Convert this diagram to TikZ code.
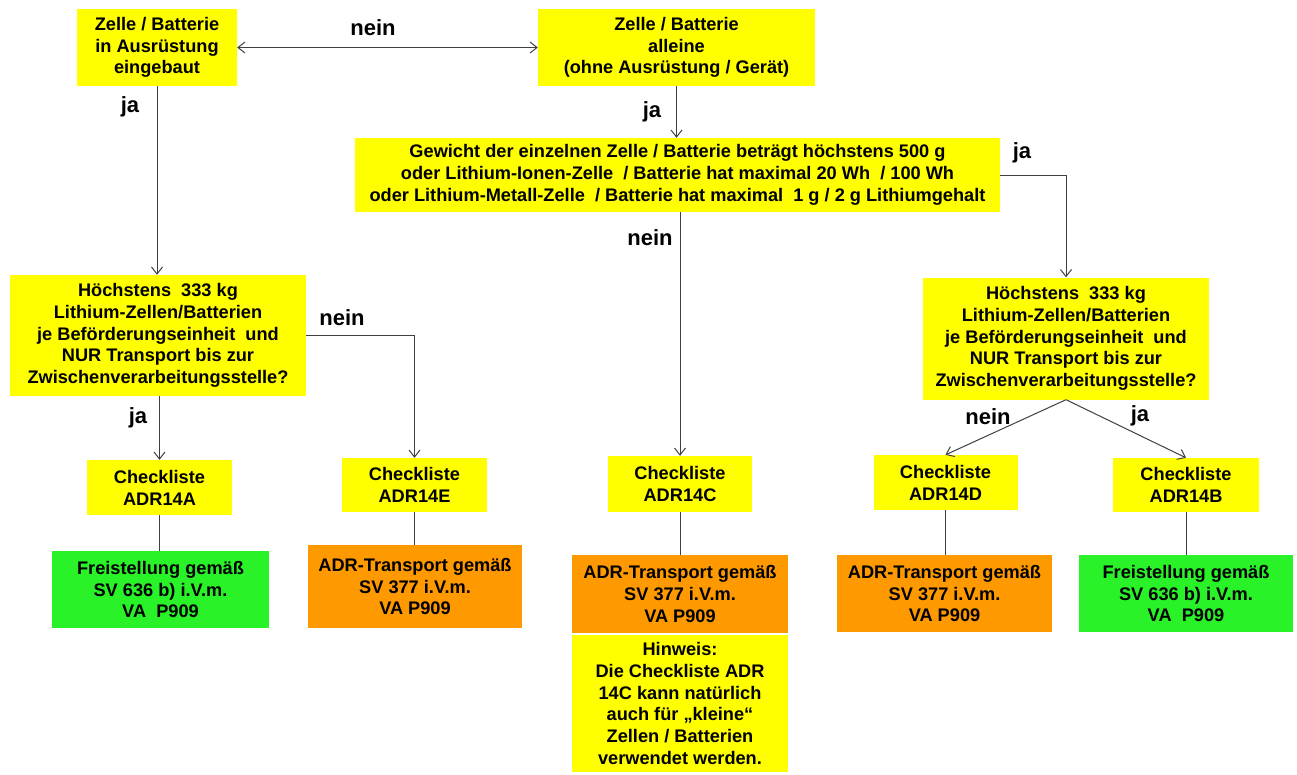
\documentclass[tikz,border=0pt]{standalone}
\usepackage{fontspec}
\setmainfont{Liberation Sans}
\usetikzlibrary{arrows.meta}
\definecolor{byellow}{RGB}{255,255,0}
\definecolor{bgreen}{RGB}{41,242,41}
\definecolor{borange}{RGB}{255,153,0}
\definecolor{lgray}{RGB}{64,64,64}
\tikzset{
  base/.style={font=\fontsize{18.2}{21.8}\selectfont\bfseries, align=center, inner sep=0pt, text=black},
  ybox/.style={base, fill=byellow},
  gbox/.style={base, fill=bgreen},
  obox/.style={base, fill=borange},
  lbl/.style={font=\fontsize{22}{25}\selectfont\bfseries, inner sep=0pt},
  conn/.style={draw=lgray, line width=1pt},
  arr/.style={conn, -{Straight Barb[length=7pt,width=11pt]}},
  darr/.style={conn, {Straight Barb[length=7pt,width=11pt]}-{Straight Barb[length=7pt,width=11pt]}}
}
\begin{document}
\begin{tikzpicture}[x=1pt,y=-1pt]
\fill[white] (0,0) rectangle (1297,774);
\useasboundingbox (0,0) rectangle (1297,774);
% top boxes
\node[ybox, minimum width=160, minimum height=77] (A) at (157,47.5) {Zelle / Batterie\\in Ausrüstung\\eingebaut};
\node[ybox, minimum width=277, minimum height=77] (B) at (676.5,47.5) {Zelle / Batterie\\alleine\\(ohne Ausrüstung / Gerät)};
\node[ybox, minimum width=645, minimum height=74] (C) at (677.5,175) {Gewicht der einzelnen Zelle / Batterie beträgt höchstens 500 g\\oder Lithium-Ionen-Zelle \ / Batterie hat maximal 20 Wh \ / 100 Wh\\oder Lithium-Metall-Zelle \ / Batterie hat maximal \ 1 g / 2 g Lithiumgehalt};
% decision boxes
\node[ybox, minimum width=296, minimum height=121] (L) at (158,335.5) {Höchstens \ 333 kg\\Lithium-Zellen/Batterien\\je Beförderungseinheit \ und\\NUR Transport bis zur\\Zwischenverarbeitungsstelle?};
\node[ybox, minimum width=286, minimum height=122] (R) at (1066,338.5) {Höchstens \ 333 kg\\Lithium-Zellen/Batterien\\je Beförderungseinheit \ und\\NUR Transport bis zur\\Zwischenverarbeitungsstelle?};
% checklists
\node[ybox, minimum width=145, minimum height=55] (ChkA) at (159.5,487.5) {Checkliste\\ADR14A};
\node[ybox, minimum width=145, minimum height=54] (ChkE) at (414.5,485) {Checkliste\\ADR14E};
\node[ybox, minimum width=144, minimum height=56] (ChkC) at (680,484) {Checkliste\\ADR14C};
\node[ybox, minimum width=144, minimum height=55] (ChkD) at (945.5,482.5) {Checkliste\\ADR14D};
\node[ybox, minimum width=146, minimum height=54] (ChkB) at (1186,485) {Checkliste\\ADR14B};
% results
\node[gbox, minimum width=217, minimum height=77] (GA) at (160.5,589.5) {Freistellung gemäß\\SV 636 b) i.V.m.\\VA \ P909};
\node[obox, minimum width=214, minimum height=83] (OE) at (415,586.5) {ADR-Transport gemäß\\SV 377 i.V.m.\\VA P909};
\node[obox, minimum width=216, minimum height=78] (OC) at (680,594) {ADR-Transport gemäß\\SV 377 i.V.m.\\VA P909};
\node[ybox, minimum width=216, minimum height=137] (H) at (680,703.5) {Hinweis:\\Die Checkliste ADR\\14C kann natürlich\\auch für „kleine“\\Zellen / Batterien\\verwendet werden.};
\node[obox, minimum width=215, minimum height=77] (OD) at (944.5,593.5) {ADR-Transport gemäß\\SV 377 i.V.m.\\VA P909};
\node[gbox, minimum width=214, minimum height=77] (GB) at (1186,593.5) {Freistellung gemäß\\SV 636 b) i.V.m.\\VA \ P909};
% connectors
\draw[darr] (A.east) -- (B.west);
\draw[arr] (A.south) -- (A.south |- L.north);
\draw[arr] (B.south) -- (B.south |- C.north);
\draw[arr] (C.east) -| (R.north);
\draw[arr] (ChkC.north |- C.south) -- (ChkC.north);
\draw[arr] (L.east) -| (ChkE.north);
\draw[arr] (ChkA.north |- L.south) -- (ChkA.north);
\draw[arr] (R.south) -- (ChkD.north);
\draw[arr] (R.south) -- (ChkB.north);
\draw[conn] (ChkA.south) -- (ChkA.south |- GA.north);
\draw[conn] (ChkE.south) -- (ChkE.south |- OE.north);
\draw[conn] (ChkC.south) -- (ChkC.south |- OC.north);
\draw[conn] (ChkD.south) -- (ChkD.south |- OD.north);
\draw[conn] (ChkB.south) -- (ChkB.south |- GB.north);
% labels
\node[lbl] (l1) at (373,28) {nein};
\node[lbl] (l2) at (130,107) {ja};
\node[lbl] (l3) at (652,112) {ja};
\node[lbl] (l4) at (1022,153) {ja};
\node[lbl] (l5) at (650,238) {nein};
\node[lbl] (l6) at (342,318) {nein};
\node[lbl] (l7) at (138,418) {ja};
\node[lbl] (l8) at (988,417) {nein};
\node[lbl] (l9) at (1140,416) {ja};
\end{tikzpicture}
\end{document}
